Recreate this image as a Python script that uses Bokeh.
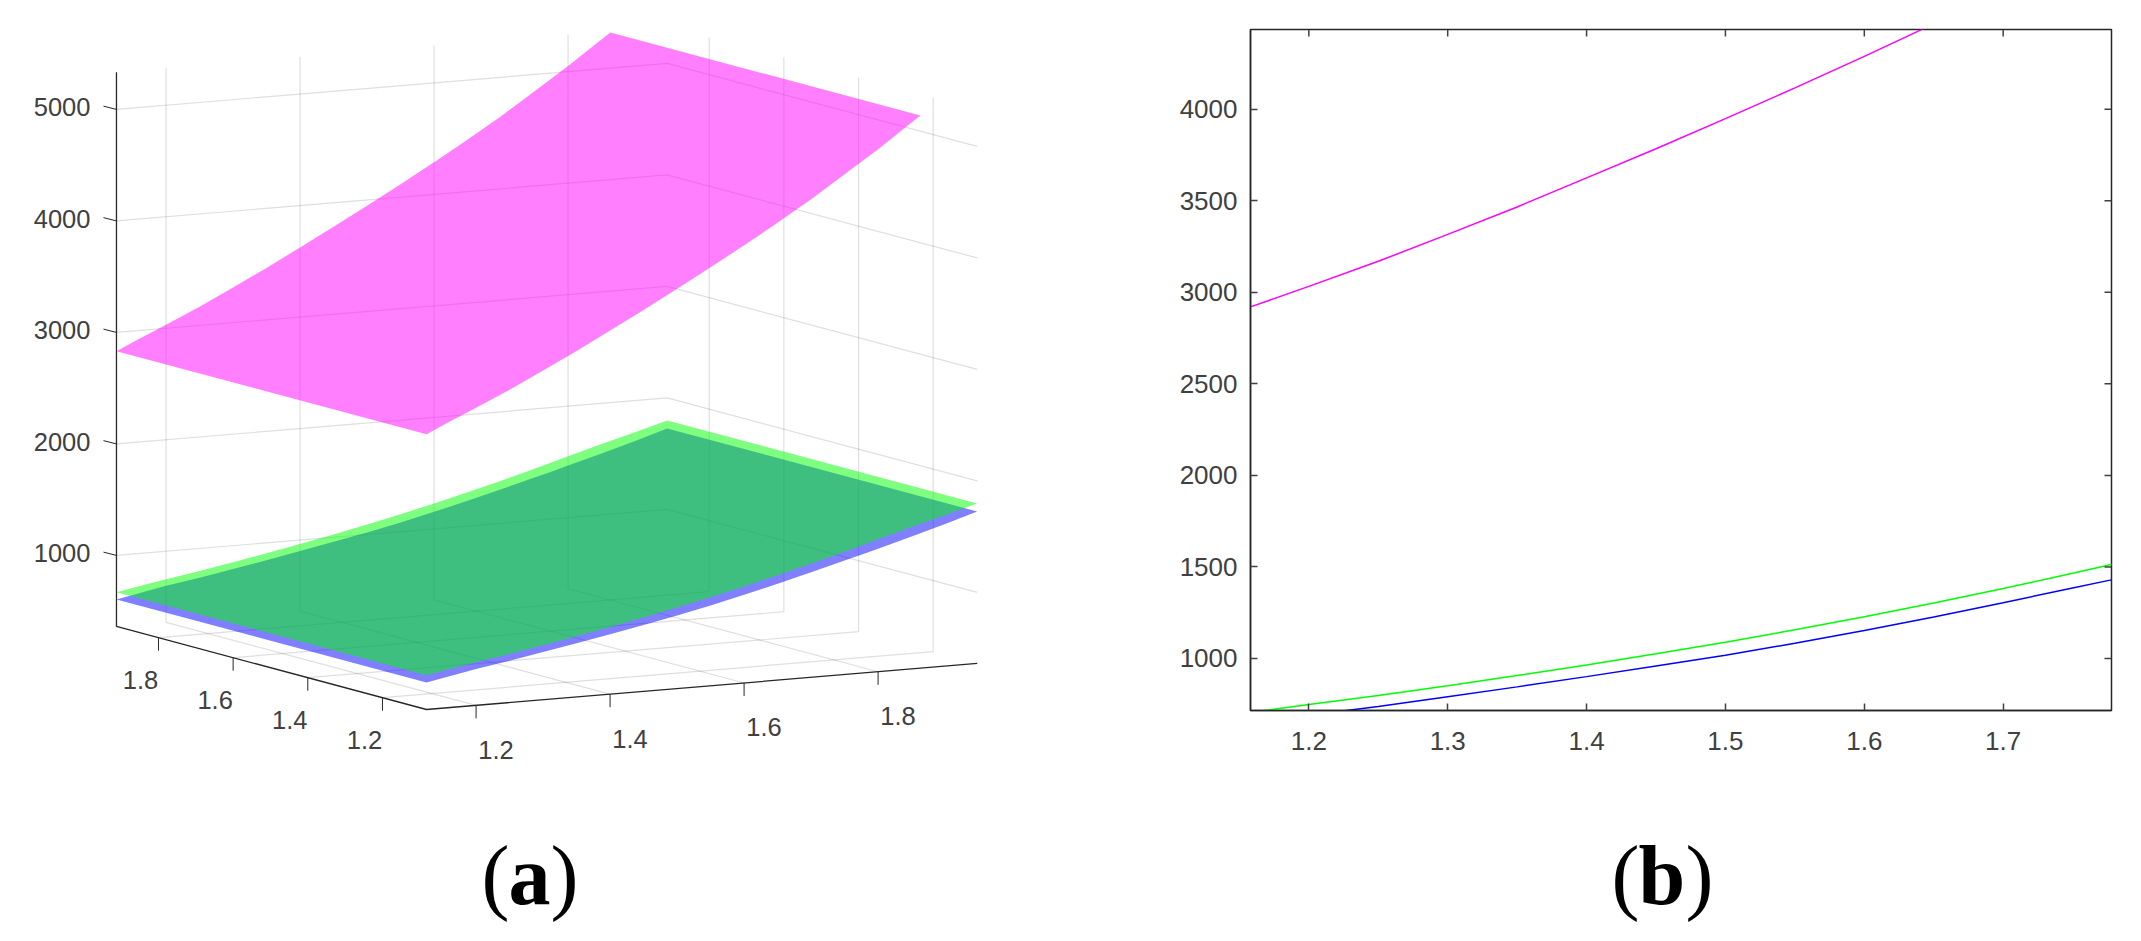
from bokeh.plotting import figure
from bokeh.layouts import row, column
from bokeh.models import Range1d, FixedTicker
from bokeh.core.properties import value
from bokeh.embed import file_html
from bokeh.resources import INLINE

# ---- values ----
a_pink = [1.126, 1.158, 1.2, 1.25, 1.3, 1.35, 1.4, 1.45, 1.5, 1.55, 1.6, 1.64, 1.7, 1.75, 1.8, 1.863]
z_pink = [2832, 2920, 3032, 3169, 3316, 3466, 3625, 3784, 3948, 4116, 4288, 4430, 4650, 4850, 5050, 5320]
a_green = [1.126, 1.168, 1.2, 1.25, 1.3, 1.35, 1.4, 1.45, 1.5, 1.55, 1.6, 1.65, 1.7, 1.75, 1.777, 1.8, 1.85, 1.9, 1.948]
z_green = [670, 716, 749, 798, 851, 907, 965, 1026, 1089, 1157, 1228, 1303, 1382, 1465, 1512, 1552, 1636, 1716, 1798]
a_blue = [1.126, 1.2, 1.25, 1.3, 1.35, 1.4, 1.45, 1.5, 1.55, 1.6, 1.65, 1.7, 1.75, 1.777, 1.8, 1.85, 1.9, 1.948]
z_blue = [605, 690, 738, 791, 845, 901, 959, 1018, 1083, 1153, 1227, 1305, 1385, 1428, 1467, 1551, 1637, 1726]

ticks_3d_xy = [1.2, 1.4, 1.6, 1.8]
ticks_3d_z = [1000, 2000, 3000, 4000, 5000]
ticks_2d_x = [1.2, 1.3, 1.4, 1.5, 1.6, 1.7]
ticks_2d_y = [1000, 1500, 2000, 2500, 3000, 3500, 4000]

a_lim = (1.126, 1.948)
b_lim = (1.082, 1.9125)
z_lim = (363, 5333)
xlim_2d = (1.158, 1.778)
ylim_2d = (716, 4435)

# ---- view of the 3-D box ----
FONT = value("Liberation Sans")
SERIF = value("Liberation Serif")
INK = "#404040"
LINE = "#262626"
A_W, PAGE_H = 1100, 925
B_W, B_H = 1025, 780
TICK_FS = "25.5px"
CAP_Y = 875


def proj(a, b, z):
    """Orthographic projection to page pixels."""
    px = 426 + 670 * (a - a_lim[0]) - 373.3 * (b - b_lim[0])
    py = 709 - 56 * (a - a_lim[0]) - 100 * (b - b_lim[0]) - 0.1115 * (z - z_lim[0])
    return px, py


def surface(a_vals, z_vals):
    near = [proj(a, b_lim[0], z) for a, z in zip(a_vals, z_vals)]
    far = [proj(a, b_lim[1], z) for a, z in zip(a_vals, z_vals)]
    pts = near + far[::-1]
    return [p[0] for p in pts], [p[1] for p in pts]


def segs(triples):
    xs, ys = [], []
    for path in triples:
        pts = [proj(*t) for t in path]
        xs.append([p[0] for p in pts])
        ys.append([p[1] for p in pts])
    return xs, ys


def caption(fig, pieces):
    for x, txt, bold in pieces:
        fig.text([x], [CAP_Y], text=[txt], text_font=SERIF, text_font_size="84px",
                 text_font_style="bold" if bold else "normal", text_color="#000000",
                 text_baseline="alphabetic", text_align="left")


pa = figure(width=A_W, height=PAGE_H, x_range=Range1d(0, A_W), y_range=Range1d(PAGE_H, 0),
            x_axis_type=None, y_axis_type=None, toolbar_location=None, output_backend="svg",
            min_border=0, outline_line_color=None, frame_align=False)
pa.grid.visible = False

a0, a1 = a_lim
b0, b1 = b_lim
z0, z1 = z_lim
grid = []
for t in ticks_3d_xy:
    grid.append([(t, b0, z0), (t, b1, z0), (t, b1, z1)])
    grid.append([(a0, t, z0), (a1, t, z0), (a1, t, z1)])
for z in ticks_3d_z:
    grid.append([(a0, b1, z), (a1, b1, z), (a1, b0, z)])
gx, gy = segs(grid)
pa.multi_line(gx, gy, line_color=LINE, line_alpha=0.15, line_width=1.2)

for a_vals, z_vals, col in [(a_blue, z_blue, "#0000ff"), (a_green, z_green, "#00ff00"), (a_pink, z_pink, "#ff00ff")]:
    sx, sy = surface(a_vals, z_vals)
    pa.patch(sx, sy, fill_color=col, fill_alpha=0.5, line_color=None)

ax, ay = segs([[(a0, b1, z1), (a0, b1, z0), (a0, b0, z0), (a1, b0, z0)]])
pa.multi_line(ax, ay, line_color=LINE, line_width=1.3)

# ticks and tick labels of the box
tx, ty, lab_x, lab_y, lab_t = [], [], [], [], []
for t in ticks_3d_xy:
    x, y = proj(t, b0, z0)
    tx.append([x, x]); ty.append([y, y + 13])
    lab_x.append(x + 20); lab_y.append(y + 44.5); lab_t.append(f"{t:.1f}")
    x, y = proj(a0, t, z0)
    tx.append([x, x]); ty.append([y, y + 13])
    lab_x.append(x - 18); lab_y.append(y + 42.5); lab_t.append(f"{t:.1f}")
pa.multi_line(tx, ty, line_color=LINE, line_width=1)
pa.text(lab_x, lab_y, text=lab_t, text_font=FONT, text_font_size=TICK_FS, text_color=INK,
        text_align="center", text_baseline="middle")

ztx, zty, zlx, zly, zlt = [], [], [], [], []
for z in ticks_3d_z:
    x, y = proj(a0, b1, z)
    ztx.append([x - 13, x]); zty.append([y - 3.3, y])
    zlx.append(x - 26); zly.append(y - 2.3); zlt.append(str(z))
pa.multi_line(ztx, zty, line_color=LINE, line_width=1)
pa.text(zlx, zly, text=zlt, text_font=FONT, text_font_size=TICK_FS, text_color=INK,
        text_align="right", text_baseline="middle")

caption(pa, [(481, "(", False), (508, "a", True), (550, ")", False)])

# ---- panel (b) ----
F_L, F_R, F_T, F_B = 1250, 2111, 29, 710
pb = figure(width=B_W, height=B_H, x_range=Range1d(*xlim_2d), y_range=Range1d(*ylim_2d),
            toolbar_location=None, output_backend="svg",
            min_border_left=F_L - A_W, min_border_right=A_W + B_W - F_R,
            min_border_top=F_T, min_border_bottom=B_H - F_B,
            outline_line_color=LINE, outline_line_width=1.5, frame_align=False)
pb.grid.visible = False
pb.line(a_blue, z_blue, line_color="#0000ff", line_width=1.5)
pb.line(a_green, z_green, line_color="#00ff00", line_width=1.5)
pb.line(a_pink, z_pink, line_color="#ff00ff", line_width=1.5)


def style(axis, ticks):
    axis.ticker = FixedTicker(ticks=ticks)
    axis.major_tick_in = 7
    axis.major_tick_out = 0
    axis.minor_tick_line_color = None
    axis.major_tick_line_color = INK
    axis.major_tick_line_width = 1.5
    axis.axis_line_color = LINE
    axis.axis_line_width = 1.5
    axis.major_label_text_font = "Liberation Sans"
    axis.major_label_text_font_size = "26px"
    axis.major_label_text_color = INK


style(pb.xaxis[0], ticks_2d_x)
pb.xaxis[0].major_label_standoff = 21
style(pb.yaxis[0], ticks_2d_y)
pb.yaxis[0].major_label_standoff = 13

# the box's inward ticks on the top and right sides
dy_tick = 7 * (ylim_2d[1] - ylim_2d[0]) / (F_B - F_T)
dx_tick = 7 * (xlim_2d[1] - xlim_2d[0]) / (F_R - F_L)
pb.segment(ticks_2d_x, [ylim_2d[1]] * len(ticks_2d_x), ticks_2d_x, [ylim_2d[1] - dy_tick] * len(ticks_2d_x),
           line_color=INK, line_width=1.5)
pb.segment([xlim_2d[1]] * len(ticks_2d_y), ticks_2d_y, [xlim_2d[1] - dx_tick] * len(ticks_2d_y), ticks_2d_y,
           line_color=INK, line_width=1.5)

# caption strip under panel (b)
pc = figure(width=B_W, height=PAGE_H - B_H, x_range=Range1d(A_W, A_W + B_W), y_range=Range1d(PAGE_H, B_H),
            x_axis_type=None, y_axis_type=None, toolbar_location=None, output_backend="svg",
            min_border=0, outline_line_color=None, frame_align=False)
pc.grid.visible = False
caption(pc, [(1611, "(", False), (1638, "b", True), (1685, ")", False)])

page = row(pa, column(pb, pc))
open("out.html", "w").write(file_html(page, INLINE))
